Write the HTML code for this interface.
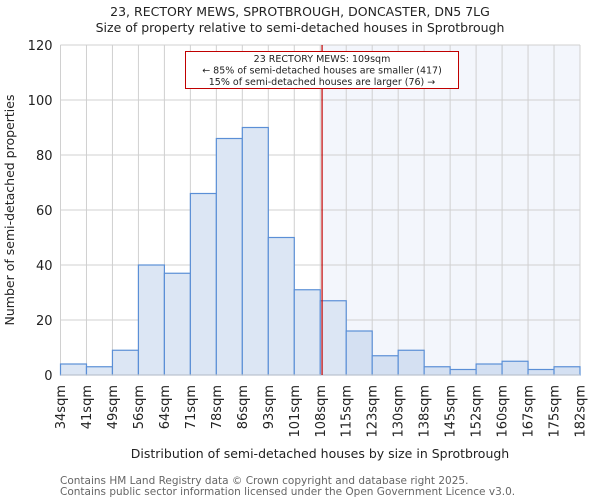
<!DOCTYPE html>
<html><head><meta charset="utf-8"><style>
body{margin:0;background:#fff;font-family:"DejaVu Sans","Liberation Sans",sans-serif;}
svg text{font-family:"DejaVu Sans","Liberation Sans",sans-serif;}
</style></head><body>
<svg id="c" width="600" height="500" xmlns="http://www.w3.org/2000/svg">
<text x="300" y="16" text-anchor="middle" font-size="12.5" fill="#222">23, RECTORY MEWS, SPROTBROUGH, DONCASTER, DN5 7LG</text>
<text x="300" y="32" text-anchor="middle" font-size="12.5" fill="#222">Size of property relative to semi-detached houses in Sprotbrough</text>
<g id="plot"></g>
<text transform="translate(14,210) rotate(-90)" text-anchor="middle" font-size="12.5" fill="#222">Number of semi-detached properties</text>
<text x="320" y="458" text-anchor="middle" font-size="12.5" fill="#222">Distribution of semi-detached houses by size in Sprotbrough</text>
<text x="60" y="484" font-size="10.5" fill="#666">Contains HM Land Registry data © Crown copyright and database right 2025.</text>
<text x="60" y="495" font-size="10.5" fill="#666">Contains public sector information licensed under the Open Government Licence v3.0.</text>
</svg>
<script>
const binLabels=["34sqm","41sqm","49sqm","56sqm","64sqm","71sqm","78sqm","86sqm","93sqm","101sqm","108sqm","115sqm","123sqm","130sqm","138sqm","145sqm","152sqm","160sqm","167sqm","175sqm","182sqm"];
const counts=[4,3,9,40,37,66,86,90,50,31,27,16,7,9,3,2,4,5,2,3];
const yTicks=[0,20,40,60,80,100,120];
const markerBin=10.07;
const NS="http://www.w3.org/2000/svg";
const g=document.getElementById('plot');
const X0=60.5,X1=580,Y0=375,Y1=45,YMAX=120;
const bw=(X1-X0)/counts.length;
const xs=i=>X0+i*bw;
const ys=v=>Y0-(v/YMAX)*(Y0-Y1);
function mk(t,a){const e=document.createElementNS(NS,t);for(const k in a)e.setAttribute(k,a[k]);g.appendChild(e);return e;}
const mx=xs(markerBin);
let sh=mk('rect',{x:mx,y:Y1,width:X1-mx,height:Y0-Y1,fill:'#f3f6fc'});


for(let i=0;i<binLabels.length;i++){
 let l=mk('line',{x1:xs(i),x2:xs(i),y1:Y1,y2:Y0,stroke:'#d0d0d0','stroke-width':1});
 
 
}
yTicks.forEach(v=>{
 let l=mk('line',{x1:X0,x2:X1,y1:ys(v),y2:ys(v),stroke:'#d0d0d0','stroke-width':1});
 
 
 let t=mk('text',{x:X0-8,y:ys(v)+5,'text-anchor':'end','font-size':13,fill:'#222'});
 t.textContent=v;
 
 
});
counts.forEach((c,i)=>{
 let r=mk('rect',{x:xs(i),y:ys(c),width:bw,height:Y0-ys(c),fill:xs(i)>=mx-1?'#d4e0f2':'#dce6f4',stroke:'#5b8fd6','stroke-width':1.2});
 
 
});
let ax=mk('line',{x1:X0,x2:X1,y1:Y0,y2:Y0,stroke:'#ccc','stroke-width':1});


binLabels.forEach((s,i)=>{
 let t=mk('text',{transform:`translate(${xs(i)+4.5},385) rotate(-90)`,'text-anchor':'end','font-size':13,fill:'#222'});
 t.textContent=s;
 
 
});
let ml=mk('line',{x1:mx,x2:mx,y1:Y1,y2:Y0,stroke:'#c00000','stroke-width':1.2});


let bx=mk('rect',{x:185.5,y:51.5,width:273,height:37,fill:'#fff',stroke:'#c00000','stroke-width':1});


["23 RECTORY MEWS: 109sqm","← 85% of semi-detached houses are smaller (417)","15% of semi-detached houses are larger (76) →"].forEach((s,i)=>{
 let t=mk('text',{x:322,y:62+i*11.5,'text-anchor':'middle','font-size':9.5,fill:'#222'});
 t.textContent=s;
 
 
});
</script>
</body></html>
